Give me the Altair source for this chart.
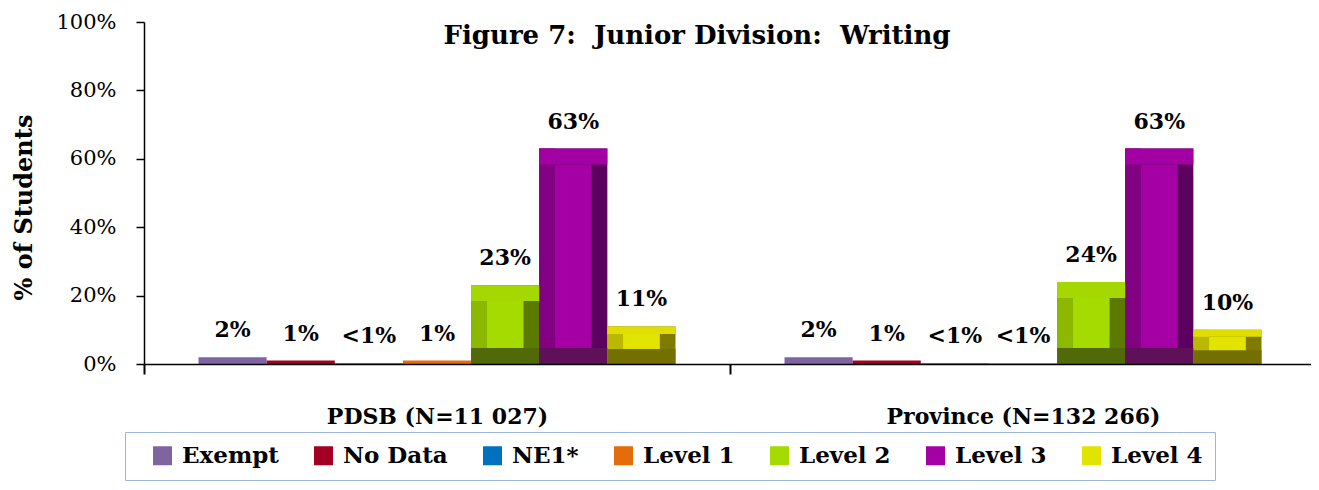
import altair as alt
import pandas as pd

# ---------------- data ----------------
title_text = "Figure 7:\u00a0 Junior Division:\u00a0 Writing"
groups = ["PDSB (N=11 027)", "Province (N=132 266)"]
categories = ["Exempt", "No Data", "NE1*", "Level 1", "Level 2", "Level 3", "Level 4"]
pdsb_values = [2, 1, 0.2, 1, 23, 63, 11]
province_values = [2, 1, 0.2, 0.2, 24, 63, 10]
pdsb_labels = ["2%", "1%", "<1%", "1%", "23%", "63%", "11%"]
province_labels = ["2%", "1%", "<1%", "<1%", "24%", "63%", "10%"]
y_ticks = [0, 20, 40, 60, 80, 100]

# ---------------- styles ----------------
front_colors = ["#8064A2", "#A50021", "#0070C0", "#E46C0A", "#A6DB00", "#A500A5", "#E3E300"]
top_colors = ["#9A80BE", "#B8243A", "#2A86CC", "#EE8A36", "#A4D800", "#A200A2", "#E0DE00"]
left_colors = ["#6E5690", "#8A001C", "#005EA2", "#C25A08", "#8DB800", "#820082", "#BAB800"]
right_colors = ["#4F3D66", "#650014", "#004575", "#8C4106", "#5B7A00", "#5C005F", "#7F7A00"]
bottom_colors = ["#46375C", "#5A0012", "#003D68", "#7C3A06", "#52690A", "#5E1058", "#737000"]

FONT = "DejaVu Serif"
GROUP_W = 86      # width of one group in x units
PAD = 8           # outer padding of a group in x units
BAR_W = 10        # bar width in x units
SIDE = 2.3        # side bevel in x units

rows = []
for gi, (vals, labs) in enumerate([(pdsb_values, pdsb_labels), (province_values, province_labels)]):
    for ci, cat in enumerate(categories):
        big = vals[ci] >= 5
        rows.append(dict(
            group=groups[gi], gi=gi, category=cat, ci=ci,
            value=vals[ci], label=labs[ci],
            front=front_colors[ci], topc=top_colors[ci], leftc=left_colors[ci],
            rightc=right_colors[ci], bottomc=bottom_colors[ci],
            basefill=right_colors[ci] if big else front_colors[ci],
        ))
df = pd.DataFrame(rows)

centers = [gi * GROUP_W + GROUP_W / 2 for gi in range(len(groups))]
label_expr = " : ".join(
    f"datum.value == {c} ? '{g}'" for c, g in zip(centers, groups)
) + " : ''"
tick_test = " || ".join(f"datum.value == {c}" for c in centers)
x_values = sorted([gi * GROUP_W for gi in range(len(groups) + 1)] + centers)

xscale = alt.Scale(domain=[0, GROUP_W * len(groups)], nice=False, zero=False, padding=0)
yscale = alt.Scale(domain=[0, 100], nice=False)

xaxis = alt.Axis(
    values=x_values, labelExpr=label_expr, title=None, grid=False,
    domainColor="black", domainWidth=1.5, tickColor="black", tickWidth=2, tickSize=10,
    tickOpacity={"condition": {"test": tick_test, "value": 0}, "value": 1},
    labelFont=FONT, labelFontSize=22, labelFontWeight="bold", labelColor="black",
    labelPadding=32, labelOverlap=False, labelFlush=False, labelLimit=0, zindex=1,
)
yaxis = alt.Axis(
    values=y_ticks, labelExpr="datum.value + '%'", title="% of Students", grid=False,
    domainColor="black", domainWidth=1.5, tickColor="black", tickWidth=1.5, tickSize=8,
    labelFont=FONT, labelFontSize=21, labelColor="black", labelPadding=20,
    titleFont=FONT, titleFontSize=24, titleFontWeight="bold", titleColor="black",
    titlePadding=19, titleY=185, zindex=1,
)

base = alt.Chart(df).transform_calculate(
    x0=f"datum.gi * {GROUP_W} + {PAD} + datum.ci * {BAR_W}",
).transform_calculate(
    x1=f"datum.x0 + {BAR_W}",
    xl=f"datum.x0 + {SIDE}",
    xr=f"datum.x0 + {BAR_W} - {SIDE}",
    xc=f"datum.x0 + {BAR_W} / 2",
    zero="0",
    bt="min(4.7, datum.value * 0.2)",
    bb="min(4.7, datum.value * 0.4)",
).transform_calculate(
    ytop="datum.value - datum.bt",
)

full = base.mark_rect().encode(
    x=alt.X("x0:Q", scale=xscale, axis=xaxis),
    x2="x1:Q",
    y=alt.Y("value:Q", scale=yscale, axis=yaxis),
    y2="zero:Q",
    fill=alt.Fill("basefill:N", scale=None),
)

big = base.transform_filter("datum.value >= 5")

left_strip = big.mark_rect().encode(
    x="x0:Q", x2="xl:Q", y="value:Q", y2="zero:Q",
    fill=alt.Fill("leftc:N", scale=None),
)
bottom_strip = big.mark_rect().encode(
    x="x0:Q", x2="x1:Q", y="bb:Q", y2="zero:Q",
    fill=alt.Fill("bottomc:N", scale=None),
)
top_strip = big.mark_rect().encode(
    x="x0:Q", x2="x1:Q", y="value:Q", y2="ytop:Q",
    fill=alt.Fill("topc:N", scale=None),
)
face = big.mark_rect().encode(
    x="xl:Q", x2="xr:Q", y="ytop:Q", y2="bb:Q",
    fill=alt.Fill(
        "category:N",
        scale=alt.Scale(domain=categories, range=front_colors),
        sort=categories,
        legend=alt.Legend(
            title="\u00a0", titleOrient="left", titlePadding=14,
            titleFont=FONT, titleFontSize=14,
            orient="none", legendX=-19, legendY=410,
            direction="horizontal", columns=len(categories),
            fillColor="white", strokeColor="#9CB6E2", padding=12,
            symbolType="square", symbolSize=361, symbolStrokeWidth=0,
            labelFont=FONT, labelFontSize=23, labelFontWeight="bold", labelColor="black",
            labelOffset=8, columnPadding=33,
        ),
    ),
)

labels = base.mark_text(
    font=FONT, fontSize=22, fontWeight="bold", color="black",
    baseline="alphabetic", dy=-20,
).encode(x="xc:Q", y="value:Q", text="label:N")

title = alt.Chart(pd.DataFrame({"t": [title_text]})).mark_text(
    font=FONT, fontSize=26, fontWeight="bold", color="black",
    align="center", baseline="alphabetic",
).encode(x=alt.value(553), y=alt.value(22), text="t:N")

chart = alt.layer(full, left_strip, bottom_strip, top_strip, face, labels, title).properties(
    width=1172,
    height=342,
    background="white",
    padding={"left": 4, "top": 3, "right": -6, "bottom": 0},
).configure_view(stroke=None)

chart.save("out.html", embed_options={"renderer": "svg", "actions": False})
